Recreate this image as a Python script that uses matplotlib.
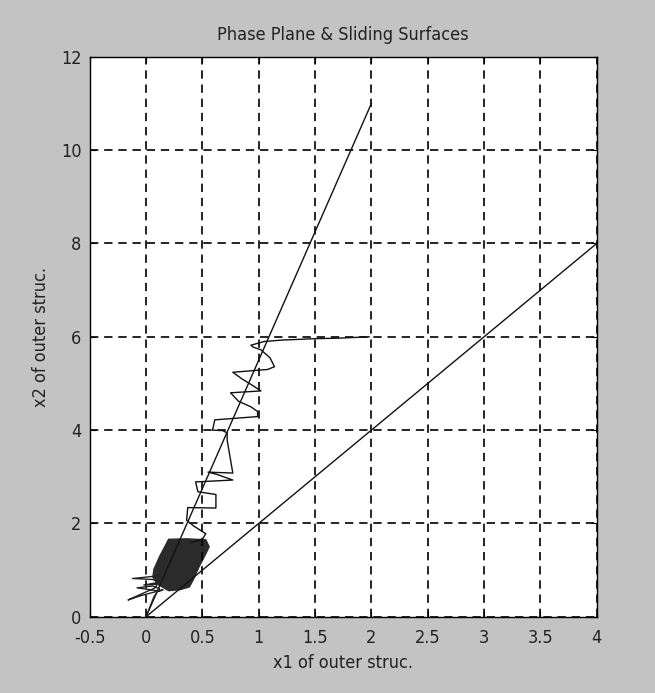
import matplotlib
matplotlib.use("Agg")
import matplotlib.pyplot as plt

plt.rcParams['font.family'] = ['DejaVu Sans']
plt.rcParams['font.stretch'] = 'condensed'

# Sliding surfaces (straight lines through origin)
surf1_x = [0.0, 2.0]
surf1_y = [0.0, 11.0]
surf2_x = [0.0, 4.0]
surf2_y = [0.0, 8.0]

# Trajectory (reaching + sliding with chattering)
traj_x = [1.98, 1.70, 1.50, 1.21, 1.05, 0.93, 0.95, 1.02, 1.10, 1.14, 1.08, 0.77,
          0.85, 0.95, 1.02, 0.75, 0.82, 0.93, 0.99, 0.99, 0.61, 0.59, 0.68, 0.72,
          0.72, 0.77, 0.55, 0.63, 0.77, 0.44, 0.46, 0.62, 0.62, 0.37, 0.36, 0.42,
          0.53, 0.50, 0.40]
traj_y = [6.00, 5.97, 5.96, 5.93, 5.90, 5.82, 5.78, 5.72, 5.55, 5.36, 5.30, 5.24,
          5.10, 4.95, 4.84, 4.80, 4.62, 4.50, 4.40, 4.29, 4.22, 4.00, 3.99, 3.94,
          3.78, 3.08, 3.10, 3.05, 2.93, 2.89, 2.68, 2.62, 2.33, 2.34, 2.07, 1.95,
          1.78, 1.66, 1.60]

# Chattering cluster outline
blob_x = [0.20, 0.36, 0.53, 0.56, 0.52, 0.47, 0.42, 0.385, 0.30, 0.20, 0.10, 0.06, 0.07, 0.12, 0.17]
blob_y = [1.66, 1.67, 1.65, 1.50, 1.30, 1.07, 0.80, 0.64, 0.58, 0.56, 0.70, 0.85, 1.02, 1.29, 1.52]

# Chattering spikes around the cluster
spike_x = [0.12, -0.12, 0.05, 0.14, -0.02, 0.10, 0.08, -0.16, -0.05, 0.15, 0.12,
           -0.08, 0.06, 0.12, 0.07, 0.0]
spike_y = [0.88, 0.82, 0.80, 0.75, 0.68, 0.70, 0.62, 0.36, 0.45, 0.58, 0.55,
           0.62, 0.66, 0.60, 0.43, 0.0]

x_ticks = [-0.5, 0, 0.5, 1, 1.5, 2, 2.5, 3, 3.5, 4]
x_tick_labels = ['-0.5', '0', '0.5', '1', '1.5', '2', '2.5', '3', '3.5', '4']
y_ticks = [0, 2, 4, 6, 8, 10, 12]
y_tick_labels = ['0', '2', '4', '6', '8', '10', '12']

fig = plt.figure(figsize=(6.55, 6.93), dpi=100, facecolor='#c3c3c3')
ax = fig.add_axes([0.137, 0.110, 0.774, 0.808])
ax.set_facecolor('white')

ax.plot(surf1_x, surf1_y, color='#111111', lw=1.0)
ax.plot(surf2_x, surf2_y, color='#111111', lw=1.0)
ax.fill(blob_x, blob_y, color='#2b2b2b', lw=1.0, ec='#2b2b2b')
ax.plot(spike_x, spike_y, color='#222222', lw=1.0)
ax.plot(traj_x, traj_y, color='#111111', lw=1.0)

ax.set_xlim(-0.5, 4)
ax.set_ylim(0, 12)
ax.set_xticks(x_ticks)
ax.set_xticklabels(x_tick_labels)
ax.set_yticks(y_ticks)
ax.set_yticklabels(y_tick_labels)
ax.tick_params(direction='in', length=4, top=True, right=True, labelsize=13,
               color='black', labelcolor='#222222')
ax.tick_params(axis='x', pad=9)
ax.tick_params(axis='y', pad=6)
ax.grid(True, color='black', linestyle=(0, (5, 3.5)), lw=1.2)
for s in ax.spines.values():
    s.set_color('black')
    s.set_linewidth(1.0)

ax.set_title('Phase Plane & Sliding Surfaces', fontsize=13, color='#222222', pad=12)
ax.set_xlabel('x1 of outer struc.', fontsize=13, color='#222222', labelpad=5)
ax.set_ylabel('x2 of outer struc.', fontsize=13, color='#222222', labelpad=8)

fig.savefig('out.png', dpi=100, facecolor=fig.get_facecolor())
